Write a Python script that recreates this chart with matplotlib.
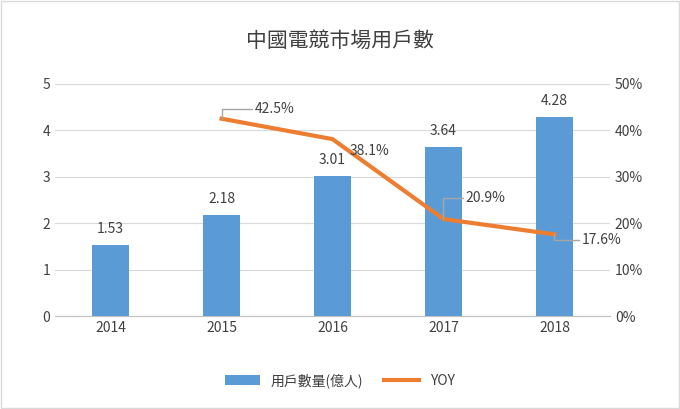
import matplotlib
matplotlib.use("Agg")
import matplotlib.pyplot as plt

plt.rcParams["font.family"] = ["Noto Sans CJK JP", "Noto Sans CJK TC", "DejaVu Sans"]

years = ["2014", "2015", "2016", "2017", "2018"]
users = [1.53, 2.18, 3.01, 3.64, 4.28]
yoy_years = ["2015", "2016", "2017", "2018"]
yoy = [42.5, 38.1, 20.9, 17.6]

fig = plt.figure(figsize=(6.8, 4.09), dpi=100)
fig.patches.append(plt.Rectangle((0.002, 0.002), 0.996, 0.996, transform=fig.transFigure,
                                 fill=False, edgecolor="#D9D9D9", lw=1))
ax = fig.add_axes([0.081, 0.227, 0.816, 0.568])
x = list(range(len(years)))
ax.bar(x, users, width=0.33, color="#5B9BD5", label="用戶數量(億人)", zorder=2)
for xi, v in zip(x, users):
    ax.text(xi, v + 0.2, f"{v:.2f}", ha="center", va="bottom", fontsize=10, color="#404040")
ax.set_ylim(0, 5)
ax.set_xlim(-0.5, 4.5)
ax.set_xticks(x, years)
ax.set_yticks(range(6))
ax.grid(axis="y", color="#D9D9D9", lw=0.8, zorder=0)
for s in ["top", "left", "right"]:
    ax.spines[s].set_visible(False)
ax.spines["bottom"].set_color("#BFBFBF")
ax.tick_params(length=0, labelsize=10, colors="#404040")

ax2 = ax.twinx()
xl = [years.index(y) for y in yoy_years]
ax2.plot(xl, yoy, color="#ED7D31", lw=3, label="YOY", zorder=3)
ax2.set_ylim(0, 50)
ax2.set_yticks(range(0, 51, 10), [f"{v}%" for v in range(0, 51, 10)])
for s in ["top", "left", "right", "bottom"]:
    ax2.spines[s].set_visible(False)
ax2.tick_params(length=0, labelsize=10, colors="#404040")
offs = [(0.3, 2.0), (0.15, -2.5), (0.2, 4.5), (0.25, -1.3)]
for xi, v, (dx, dy) in zip(xl, yoy, offs):
    ax2.annotate(f"{v}%", xy=(xi, v), xytext=(xi + dx, v + dy), ha="left", va="center",
                 fontsize=10, color="#404040",
                 arrowprops=dict(arrowstyle="-", color="#A6A6A6", lw=1,
                                 connectionstyle="angle,angleA=0,angleB=90,rad=0",
                                 shrinkA=0, shrinkB=0) if dx > 0.16 else None)

fig.text(0.5, 0.9, "中國電競市場用戶數", ha="center", va="center", fontsize=15, color="#404040")
h1, l1 = ax.get_legend_handles_labels()
h2, l2 = ax2.get_legend_handles_labels()
fig.legend(h1 + h2, l1 + l2, loc="center", bbox_to_anchor=(0.5, 0.07), ncol=2, frameon=False,
           fontsize=10, labelcolor="#404040", handlelength=2.5, columnspacing=1.5)
fig.savefig("out.png", dpi=100)
